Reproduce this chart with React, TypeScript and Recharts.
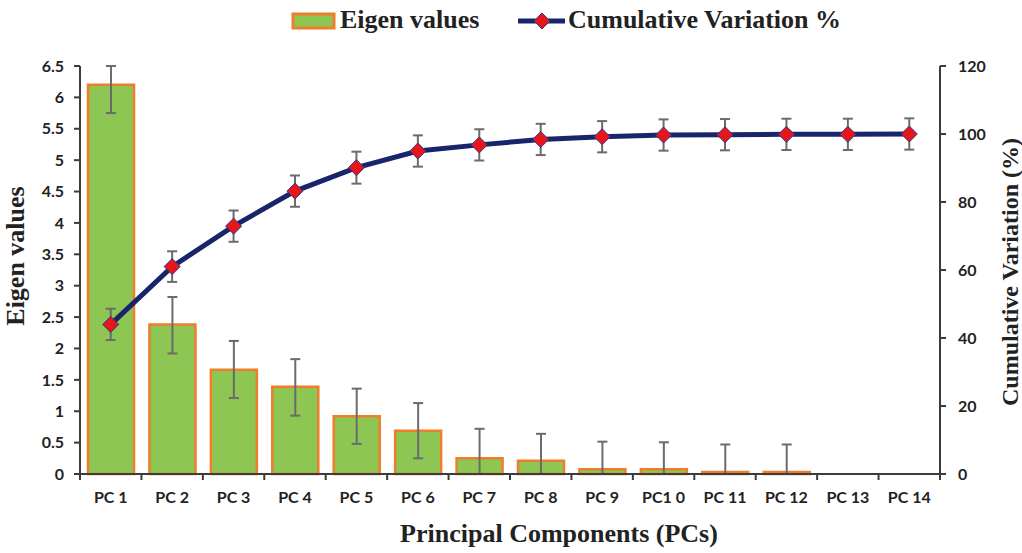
import { ComposedChart, Bar, Line, XAxis, YAxis, ErrorBar } from 'recharts';

const components = [
  'PC 1', 'PC 2', 'PC 3', 'PC 4', 'PC 5', 'PC 6', 'PC 7',
  'PC 8', 'PC 9', 'PC1 0', 'PC 11', 'PC 12', 'PC 13', 'PC 14',
];
const eigenValues = [6.2, 2.38, 1.66, 1.39, 0.92, 0.69, 0.25, 0.21, 0.075, 0.075, 0.03, 0.03, 0, 0];
// error bars are clipped by the axis range in the original, so low/high differ
const eigenErrLow = [0.45, 0.46, 0.45, 0.46, 0.44, 0.44, 0.25, 0.21, 0.075, 0.075, 0.03, 0.03, 0, 0];
const eigenErrHigh = [0.3, 0.44, 0.46, 0.44, 0.44, 0.44, 0.47, 0.43, 0.44, 0.43, 0.44, 0.44, 0.45, 0.45];
const cumulativeVariation = [44.0, 61.0, 72.9, 83.2, 90.1, 95.0, 96.8, 98.4, 99.2, 99.7, 99.8, 99.9, 99.9, 100];
const cumulativeErr = [4.6, 4.5, 4.6, 4.6, 4.7, 4.6, 4.6, 4.6, 4.6, 4.6, 4.6, 4.6, 4.6, 4.6];
const eigenTicks = [0, 0.5, 1, 1.5, 2, 2.5, 3, 3.5, 4, 4.5, 5, 5.5, 6, 6.5];
const cumulativeTicks = [0, 20, 40, 60, 80, 100, 120];

const GREEN = '#8DC653';
const ORANGE = '#EE7D2C';
const NAVY = '#19256A';
const RED = '#E8151B';
const AXIS = '#3c3c3c';
const ERR = '#6b6b6b';
const TICK_FONT = 'Lato, "Open Sans", sans-serif';
const TITLE_FONT = '"Liberation Serif", "Times New Roman", serif';

const data = components.map((pc, i) => ({
  pc,
  eigen: eigenValues[i],
  eigenErr: [eigenErrLow[i], eigenErrHigh[i]],
  cum: cumulativeVariation[i],
  cumErr: cumulativeErr[i],
}));

const Diamond = (props: any) => {
  const { cx, cy } = props;
  if (cx == null || cy == null) return null;
  const r = 8;
  return (
    <path
      d={`M${cx},${cy - r}L${cx + r},${cy}L${cx},${cy + r}L${cx - r},${cy}Z`}
      fill={RED}
      stroke="#2a3a8a"
      strokeWidth={1}
    />
  );
};

// category ticks sit between the bars, labels under the bar centres
const PcTick = (props: any) => {
  const { x, y, payload, index, visibleTicksCount } = props;
  const half = payload?.offset || 30.7;
  return (
    <g>
      <line x1={x - half} x2={x - half} y1={y} y2={y + 6} stroke={AXIS} strokeWidth={2} />
      {index === visibleTicksCount - 1 && (
        <line x1={x + half} x2={x + half} y1={y} y2={y + 6} stroke={AXIS} strokeWidth={2} />
      )}
      <text
        x={x}
        y={y + 29}
        textAnchor="middle"
        fontFamily={TICK_FONT}
        fontWeight={700}
        fontSize={16}
        fill="#222"
      >
        {payload.value}
      </text>
    </g>
  );
};

export default function App() {
  const tickStyle = { fontFamily: TICK_FONT, fontWeight: 700, fontSize: 16, fill: '#222' };

  return (
    <div style={{ position: 'relative', width: 1022, height: 553, background: '#fff' }}>
      <style>{'body { margin: 0; }'}</style>
      <ComposedChart
        width={1022}
        height={553}
        data={data}
        margin={{ top: 66, right: 0, bottom: 0, left: 0 }}
      >
        <XAxis
          dataKey="pc"
          height={79}
          interval={0}
          tickSize={0}
          tickMargin={0}
          tickLine={false}
          axisLine={{ stroke: AXIS, strokeWidth: 2 }}
          tick={<PcTick />}
        />
        <YAxis
          yAxisId="left"
          width={80}
          domain={[0, 6.5]}
          ticks={eigenTicks}
          interval={0}
          tickSize={6}
          tickMargin={10}
          axisLine={{ stroke: AXIS, strokeWidth: 2 }}
          tickLine={{ stroke: AXIS, strokeWidth: 2 }}
          tick={tickStyle}
        />
        <YAxis
          yAxisId="right"
          orientation="right"
          width={82}
          domain={[0, 120]}
          ticks={cumulativeTicks}
          interval={0}
          tickSize={6}
          tickMargin={12}
          axisLine={{ stroke: AXIS, strokeWidth: 2 }}
          tickLine={{ stroke: AXIS, strokeWidth: 2 }}
          tick={tickStyle}
        />
        <Bar
          yAxisId="left"
          dataKey="eigen"
          barSize={46}
          fill={GREEN}
          stroke={ORANGE}
          strokeWidth={2.5}
          isAnimationActive={false}
        >
          <ErrorBar dataKey="eigenErr" direction="y" width={5} stroke={ERR} strokeWidth={2} />
        </Bar>
        <Line
          yAxisId="right"
          dataKey="cum"
          type="linear"
          stroke={NAVY}
          strokeWidth={5}
          dot={<Diamond />}
          activeDot={false}
          isAnimationActive={false}
        >
          <ErrorBar dataKey="cumErr" direction="y" width={5} stroke={ERR} strokeWidth={2} />
        </Line>
      </ComposedChart>

      <svg
        width={1022}
        height={553}
        style={{ position: 'absolute', left: 0, top: 0, pointerEvents: 'none' }}
      >
        <g fontFamily={TITLE_FONT} fontWeight={700} fill="#222">
          <rect x={293} y={14} width={41} height={14} fill={GREEN} stroke={ORANGE} strokeWidth={3} />
          <text x={340} y={28} fontSize={26}>Eigen values</text>
          <line x1={518} x2={565} y1={21} y2={21} stroke={NAVY} strokeWidth={5} />
          <Diamond cx={542} cy={21} />
          <text x={568} y={28} fontSize={26}>Cumulative Variation %</text>

          <text x={559} y={542} fontSize={26} textAnchor="middle">
            Principal Components (PCs)
          </text>
          <text transform="translate(24,256) rotate(-90)" fontSize={26} textAnchor="middle">
            Eigen values
          </text>
          <text transform="translate(1018,272) rotate(-90)" fontSize={24} textAnchor="middle">
            Cumulative Variation (%)
          </text>
        </g>
      </svg>
    </div>
  );
}
